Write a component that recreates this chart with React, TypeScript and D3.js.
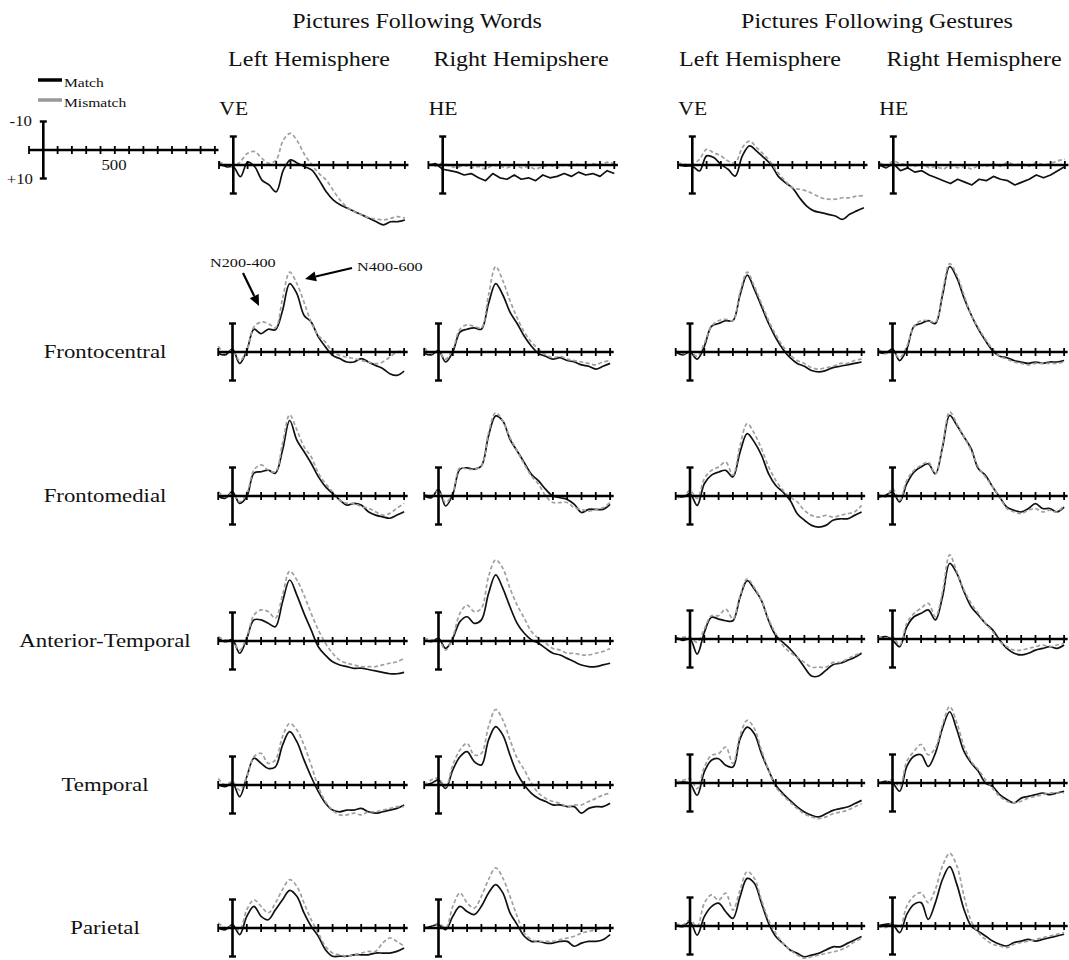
import React from "react"
import * as d3 from "d3"

// sample times (ms) shared by every waveform
const times = d3.range(-100, 1201, 50)

const groupTitles = ["Pictures Following Words", "Pictures Following Gestures"]
const hemiTitles = ["Left Hemisphere", "Right Hemipshere", "Left Hemisphere", "Right Hemisphere"]
const eyeLabels = ["VE", "HE", "VE", "HE"]
const regionLabels = ["Frontocentral", "Frontomedial", "Anterior-Temporal", "Temporal", "Parietal"]
const legendLabels = ["Match", "Mismatch"]
const legendTicks = ["-10", "+10", "500"]
const componentLabels = ["N200-400", "N400-600"]

// µV values, negative up (W = words, G = gestures, L/R = hemisphere, m = match, mm = mismatch)
const eyeWL_m = [-0.6, 0.6, 0.6, 4.1, -1, 0.6, 5.3, 7, 9.4, 1.8, -1.8, -0.6, 0.6, 1.8, 5.3, 9.4, 12.3, 14, 15.2, 16.4, 17.5, 18.7, 19.9, 21, 19.9, 19.9, 19.3]
const eyeWL_mm = [-1.2, 0, 0.6, -1.2, -4.1, -4.7, -2.3, -0.6, -1.8, -8.8, -11.1, -8.2, -3.5, 0, 3, 5.3, 9, 12.5, 15, 16.5, 17.5, 18.5, 19, 19.3, 18.7, 18.1, 18.7]
const eyeWR_m = [0, -0.5, 1.5, 2, 2.5, 3.5, 3, 4.5, 5.5, 3, 4.5, 5, 3.5, 5, 4.5, 5.5, 3.5, 4.5, 4, 3, 4, 2.5, 3.5, 3, 4, 2, 3]
const eyeWR_mm = [-0.5, 0.5, -1, 0.5, 1, 0, 1, 0.5, 1.5, 0, 0.5, 1, 0, 1, 0.5, 1.5, 0.5, 0, 1, 0, 0.5, -0.5, 0.5, -0.5, 0, -1, -0.5]
const eyeGL_m = [0, 0.4, 0.4, 2.1, -3.2, -2.6, -0.2, 1.5, 3.9, -3.2, -6.7, -4.9, -2.6, -0.2, 3.9, 6.2, 8, 11.5, 14.4, 16.1, 16.7, 17.3, 17.9, 19.1, 17.3, 16.1, 15]
const eyeGL_mm = [-0.8, -0.2, -0.2, -2, -5.5, -4.3, -3.2, -1.4, -0.8, -6.1, -8.4, -6.1, -3.7, -0.8, 2.7, 5.6, 8, 8.5, 9.1, 10.3, 11.5, 12, 12, 11.5, 11.5, 10.9, 10.7]
const eyeGR_m = [0, 1, -0.5, 2, 1, 2.5, 2, 3.5, 4.5, 5.5, 6.5, 5, 6, 7, 5, 5.5, 4, 5, 5.5, 7, 6, 5, 3.5, 4.5, 3.5, 2, 0.5]
const eyeGR_mm = [-1, 0.5, -1.5, -0.5, 0, 0.5, -0.5, 1, 0.5, 1.5, 0, 1, 0.5, 1.5, 0, 0.5, -0.5, 0.5, -1, 0, -0.5, 0.5, -1, 0, -0.5, -1.5, -2]

const fcWL_m = [0.5, 1, -1, 4, -0.5, -8, -6.4, -8, -7.8, -14.6, -24, -20.5, -12.9, -10.5, -5.3, -1.8, 1.2, 2.3, 3.5, 3.5, 2.3, 3.5, 4.7, 5.8, 7.6, 8.2, 6.7]
const fcWL_mm = [-2, 0.5, -0.5, 3, -0.5, -8.8, -10.5, -10, -8.5, -18.7, -28, -24, -17.5, -10.5, -5.8, -3.5, 0, 1.2, 1.8, 2.3, 3, 3.5, 4.1, 3.5, 1.8, 0, -0.5]
const fcWR_m = [0.5, 1, -0.5, 3.5, 0, -7, -8, -8.5, -8, -17, -24, -20, -14, -10, -5.5, -2, 0.5, 1.5, 2.5, 2, 3, 3.5, 4.5, 5, 6, 5, 4]
const fcWR_mm = [-1.5, 0.5, 0, 2.5, -1, -8, -9.5, -9, -8.5, -20, -30, -25, -18, -12, -7, -3.5, -1, 1, 2, 1.5, 2.5, 3, 3.5, 4, 4.5, 3.5, 3]
const fcGL_m = [0, 1, 0, 2.5, -2, -9, -10, -11, -11, -20, -27, -22, -16, -10, -5, -1, 2, 4, 5, 6.5, 7, 6.5, 5.5, 5, 4.5, 4, 3.5]
const fcGL_mm = [-0.5, 0.5, 0, 1.5, -3, -9, -11, -11.5, -11, -21, -28, -23, -17, -11, -6, -2, 1, 3, 4, 5.5, 6, 5.5, 5, 4, 4, 3, 2.5]
const fcGR_m = [0, 0.5, -1, 3, -1, -9, -10, -11, -10, -20, -30, -26, -19, -13, -8, -4, -0.5, 1.5, 2, 3, 3.5, 4, 3.5, 4, 3.5, 3.5, 3]
const fcGR_mm = [-1, 0.5, 0, 2, -2, -9, -11, -11, -10.5, -21, -31, -27, -20, -13, -8.5, -4.5, -1, 1.5, 2.5, 3.5, 4, 4.5, 4, 4, 4, 4, 3.5]

const fmWL_m = [0.2, 0.8, -1.5, 2.6, 0.2, -8, -8.5, -9.1, -8, -16.1, -26.5, -19.6, -15.6, -11.5, -6.8, -3.3, -0.9, 1.4, 3.2, 2.6, 3.2, 5.5, 6.7, 7.3, 7.8, 6.7, 5.5]
const fmWL_mm = [-1.5, 0.2, -0.9, 2, -0.9, -9.1, -10.9, -9.1, -8.5, -18.5, -28.5, -23.2, -17.3, -13.8, -8, -4.4, -1.5, 1.4, 2.6, 2.6, 3.7, 4.3, 5.5, 6.7, 6.1, 4.3, 2.6]
const fmWR_m = [0, 0.6, -2.3, 3.5, -0.6, -9.4, -9.9, -9.4, -10.5, -21.1, -28.1, -26.3, -19.9, -15.8, -11.7, -7.6, -5.3, -2.3, 0, 0.6, 1.2, 2.9, 5.8, 4.7, 4.7, 4.7, 2.9]
const fmWR_mm = [-0.6, 0, -1.8, 2.3, -1.2, -9.9, -9.4, -9.4, -10.5, -22.2, -29.2, -26.3, -20.5, -15.8, -11.1, -7, -4.1, 0, 2.3, 2.3, 2.3, 4.1, 4.7, 5.3, 4.7, 4.1, 2.3]
const fmGL_m = [-0.2, 0.4, -0.8, 3.3, -4.3, -7.3, -8.4, -9, -6.7, -15.4, -21.9, -18.9, -14.3, -7.8, -3.7, -1.4, 1.5, 6.2, 8.5, 10.3, 10.9, 10.3, 8.5, 8, 8, 6.8, 5.6]
const fmGL_mm = [0.4, 0.4, -2, 0.9, -6.1, -9, -10.2, -11.9, -7.3, -17.8, -25.4, -21.9, -16.6, -10.2, -5.5, -2, 0.4, 2.1, 5, 6.8, 7.4, 6.8, 7.4, 6.8, 6.2, 5.6, 3.3]
const fmGR_m = [0.4, -0.2, -1.4, 2.1, -4.3, -8.4, -10.2, -11.3, -7.8, -17.2, -28.3, -24.8, -20.7, -16.6, -9.6, -7.3, -3.2, 0.4, 3.9, 5, 5.6, 4.4, 2.7, 4.4, 4.4, 5.6, 3.9]
const fmGR_mm = [-0.8, 0.4, -2.6, 1.5, -5.5, -9, -10.8, -11.9, -7.8, -17.8, -29.5, -25.4, -20.7, -16, -10.2, -6.7, -3.2, 0.4, 4.4, 5.6, 6.2, 5, 4.4, 5.6, 5, 5.6, 3.3]

const atWL_m = [-0.9, 0.2, -0.4, 4.3, -0.9, -7.4, -7.4, -6.2, -5, -13.8, -21.4, -16.1, -9.7, -3.9, 2, 5, 7.3, 8.4, 9, 9.6, 9.5, 10, 10.5, 11, 11.5, 11.5, 11]
const atWL_mm = [-1.5, -0.4, 0.2, 3.2, -1.5, -9.1, -10.9, -10.3, -8, -16.1, -24.5, -21.4, -16.1, -9.7, -3.9, 0.8, 4.3, 6.7, 7.8, 8.4, 9, 9, 9, 8.4, 7.8, 7.3, 6.1]
const atWR_m = [-0.4, 0.2, -0.9, 2.6, -0.9, -6.8, -8.5, -6.2, -7.4, -16.7, -23.2, -18.5, -12, -6.2, -2.7, -0.4, 0.8, 2.6, 4.3, 4.9, 6.1, 7.3, 8.4, 9, 9, 8.4, 7.8]
const atWR_mm = [-0.9, -0.4, -0.4, 3.2, -1.5, -9.7, -12.6, -10.3, -11.5, -22.6, -28.5, -25.5, -18.5, -12.6, -8, -3.3, -0.9, 0.8, 2.6, 3.2, 4.3, 4.3, 4.9, 4.9, 4.3, 3.7, 2.6]
const atGL_m = [-0.6, 0.5, 0, 5.3, -2.3, -7.6, -7, -6.4, -6.4, -14.6, -20.5, -17.5, -13.5, -6.4, -1.2, 1.2, 3.5, 6.4, 9.9, 13, 13, 11, 9, 8.5, 7.5, 6.5, 5]
const atGL_mm = [0, -0.6, -0.6, 1.2, -3.5, -8.2, -8.2, -10.5, -7, -15.2, -21.1, -18.1, -13.5, -7, -1.8, 2.3, 4.7, 6.4, 8.2, 9.9, 9.9, 9.9, 8.2, 8.2, 7, 5.8, 4.7]
const atGR_m = [-0.2, -0.8, 0.4, 2.7, -4.3, -7.8, -9, -10.2, -6.7, -14.9, -26.5, -23, -16.6, -11.3, -8.4, -5.5, -3.2, 0.4, 3.3, 5, 5.6, 5, 3.9, 3.3, 2.7, 3.3, 2.1]
const atGR_mm = [-0.8, -0.2, -0.8, 2.1, -5.5, -9, -10.8, -12.5, -7.8, -16.6, -29.5, -23.6, -17.2, -12.5, -9, -5.5, -2.6, 0.9, 2.7, 3.9, 3.9, 3.3, 2.7, 2.1, 2.7, 2.1, 1.5]

const tpWL_m = [0, 0.6, -0.6, 4.1, -2.9, -9.4, -7.6, -5.8, -6.4, -14, -18.7, -15.2, -8.8, -2.9, 2.3, 6.4, 8.8, 9.4, 8.8, 8.8, 8.2, 9.4, 9.9, 9.4, 8.8, 8.2, 7]
const tpWL_mm = [-2.3, 0, -1.2, 1.8, -2.9, -9.9, -11.1, -7.6, -8.8, -17, -21.6, -19.3, -14, -7, 0.6, 5.8, 8.8, 10.5, 10.5, 9.9, 10.5, 9.4, 9.4, 8.8, 8.2, 7.6, 7.6]
const tpWR_m = [0, -0.6, -1.8, 1.2, -5.3, -9.9, -11.7, -8.2, -7, -15.8, -20.5, -17.5, -10.5, -4.1, 0, 2.9, 4.7, 5.8, 7, 7, 7.6, 7.6, 9.9, 8.2, 7.6, 7.6, 6.4]
const tpWR_mm = [0, -1.8, -2.3, 0.6, -7, -12.3, -14.6, -10.5, -11.1, -20.5, -26.5, -22.8, -15.8, -9.4, -5.3, -0.6, 2.9, 4.7, 5.8, 6.4, 7.6, 7, 7, 5.8, 4.7, 3.5, 2.9]
const tpGL_m = [0.2, -0.4, 0.2, 4.3, -3.9, -8, -8.5, -6.2, -5.6, -15.5, -19.6, -17.3, -10.3, -4.4, 0.8, 3.7, 6.1, 8.4, 10.2, 11.3, 11.9, 10.8, 9.6, 9, 8.4, 7.3, 6.1]
const tpGL_mm = [-0.4, -0.9, -1.5, 2, -5.6, -9.7, -10.3, -12.6, -6.8, -16.7, -22, -19.1, -11.5, -4.4, 1.4, 4.3, 6.7, 9, 10.8, 11.9, 12.5, 11.9, 10.8, 10.2, 9.6, 8.4, 7.3]
const tpGR_m = [0, -0.6, 0, 2.9, -5.8, -9.4, -9.9, -5.8, -10.5, -19.3, -25, -18.7, -11.1, -7, -4.1, 0, 1.2, 4.1, 5.8, 7, 5.3, 4.7, 4.1, 3.5, 4.1, 3.5, 2.9]
const tpGR_mm = [-0.6, 0, -1.2, 1.2, -7.6, -11.1, -13.5, -9.9, -12.3, -20.5, -26.8, -21.1, -12.9, -7.6, -4.7, -1.2, 1.8, 4.7, 6.4, 7, 6.4, 5.3, 4.7, 4.1, 3.5, 3.5, 3.5]

const paWL_m = [0, 0.6, -1.2, 2.3, -4.1, -7.6, -4.1, -2.9, -6.4, -9.9, -13.2, -11.1, -5.3, -0.6, 2.9, 7.6, 9.9, 9.9, 9.9, 9.4, 9.4, 9.4, 8.8, 8.8, 8.8, 8.2, 7]
const paWL_mm = [-1.8, 0, -0.6, 0.6, -6.4, -9.9, -7.6, -5.3, -8.8, -13.5, -17, -14.6, -8.8, -2.9, 1.8, 6.4, 8.8, 9.4, 9.9, 9.4, 8.8, 8.2, 8.2, 5.3, 3.5, 4.7, 6.4]
const paWR_m = [0, -0.6, -1.2, 0.6, -4.1, -7.6, -5.8, -4.7, -7.6, -12.3, -15.2, -12.3, -5.3, -1.2, 2.9, 4.7, 4.7, 5.3, 5.3, 4.7, 4.7, 6.4, 5.3, 4.7, 4.7, 4.1, 2.3]
const paWR_mm = [-0.6, 0, -1.8, 0, -7.6, -12.3, -8.8, -7, -11.1, -17, -21.1, -17.5, -11.1, -4.1, 1.8, 4.1, 4.7, 4.7, 4.7, 4.1, 3.5, 2.9, 1.8, 1.2, 0.6, 0, -0.6]
const paGL_m = [-0.4, 0.2, -1.5, 3.2, -3.3, -6.8, -8, -5, -2.7, -10.3, -16.7, -15, -8, -0.9, 3.7, 6.1, 8.4, 9.6, 10.8, 10.2, 9.6, 8.4, 7.3, 7.3, 6.1, 4.9, 3.7]
const paGL_mm = [-0.9, -0.4, -2.1, 0.2, -8, -10.9, -9.1, -11.5, -5.6, -12.6, -19.1, -16.7, -9.1, -2.1, 2.6, 6.1, 8.4, 10.2, 11.3, 10.8, 10.2, 9.6, 9.1, 8.4, 7.3, 5.5, 4.3]
const paGR_m = [0, -0.6, -0.6, 2.3, -4.1, -7.6, -8.2, -2.3, -8.2, -16.4, -20.8, -14.6, -5.8, 0, 1.8, 3.5, 5.3, 6.4, 7, 5.8, 5.3, 4.7, 5.3, 4.7, 4.1, 3.5, 2.9]
const paGR_mm = [0, 0.6, -1.2, 0.6, -7, -10.5, -11.7, -8.2, -12.9, -21.1, -25.5, -21.1, -10.5, -1.8, 2.3, 4.7, 6.4, 7, 7.6, 6.4, 5.8, 5.3, 4.7, 4.1, 3.5, 2.9, 2.3]

const grid = [
  [[eyeWL_m, eyeWL_mm], [eyeWR_m, eyeWR_mm], [eyeGL_m, eyeGL_mm], [eyeGR_m, eyeGR_mm]],
  [[fcWL_m, fcWL_mm], [fcWR_m, fcWR_mm], [fcGL_m, fcGL_mm], [fcGR_m, fcGR_mm]],
  [[fmWL_m, fmWL_mm], [fmWR_m, fmWR_mm], [fmGL_m, fmGL_mm], [fmGR_m, fmGR_mm]],
  [[atWL_m, atWL_mm], [atWR_m, atWR_mm], [atGL_m, atGL_mm], [atGR_m, atGR_mm]],
  [[tpWL_m, tpWL_mm], [tpWR_m, tpWR_mm], [tpGL_m, tpGL_mm], [tpGR_m, tpGR_mm]],
  [[paWL_m, paWL_mm], [paWR_m, paWR_mm], [paGL_m, paGL_mm], [paGR_m, paGR_mm]],
]

const colX = [232.5, 438.5, 690, 892.5]
const eyeColX = [233.3, 442.7, 692.3, 893.3]
const rowY = [165, 352, 496, 641, 785, 928]

const FONT = "'Liberation Serif', 'Times New Roman', Times, serif"
const SX = 1.2
const PX_MS = 0.143
const PX_UV = 2.85

function Txt({ x, y, size, anchor = "middle", children }) {
  return (
    <text
      transform={`translate(${x},${y}) scale(${SX},1)`}
      fontSize={size}
      textAnchor={anchor}
      fontFamily={FONT}
      fill="#111"
    >
      {children}
    </text>
  )
}

function Axes({ x0, y0 }) {
  const x = d3.scaleLinear().domain([0, 100]).range([x0, x0 + 100 * PX_MS])
  const y = d3.scaleLinear().domain([-10, 10]).range([y0 - 10 * PX_UV, y0 + 10 * PX_UV])
  const ticks = d3.range(-100, 1201, 100).filter(t => t !== 0)
  return (
    <g stroke="#000">
      <line x1={x(-100)} x2={x(1225)} y1={y0} y2={y0} strokeWidth={2.6} />
      {ticks.map(t => (
        <line key={t} x1={x(t)} x2={x(t)} y1={y0 - 4} y2={y0 + 4} strokeWidth={1.8} />
      ))}
      <line x1={x0} x2={x0} y1={y(-10)} y2={y(10)} strokeWidth={2.6} />
      <line x1={x0 - 3.5} x2={x0 + 3.5} y1={y(-10)} y2={y(-10)} strokeWidth={2.4} />
      <line x1={x0 - 3.5} x2={x0 + 3.5} y1={y(10)} y2={y(10)} strokeWidth={2.4} />
    </g>
  )
}

function Panel({ x0, y0, match, mismatch, noisy }) {
  const x = d3.scaleLinear().domain([0, 100]).range([x0, x0 + 100 * PX_MS])
  const y = d3.scaleLinear().domain([-10, 10]).range([y0 - 10 * PX_UV, y0 + 10 * PX_UV])
  const line = d3
    .line<number>()
    .x((_, i) => x(times[i]))
    .y(d => y(d))
    .curve(noisy ? d3.curveLinear : d3.curveCatmullRom.alpha(0.5))
  return (
    <g>
      <path d={line(match) || ""} fill="none" stroke="#111" strokeWidth={1.7} strokeLinejoin="round" />
      <path d={line(mismatch) || ""} fill="none" stroke="#a0a0a0" strokeWidth={1.7} strokeDasharray="4,2.5" />
      <Axes x0={x0} y0={y0} />
    </g>
  )
}

function Arrow({ x1, y1, x2, y2 }) {
  const a = Math.atan2(y2 - y1, x2 - x1)
  const len = 11
  const w = 5
  const bx = x2 - len * Math.cos(a)
  const by = y2 - len * Math.sin(a)
  const px = -Math.sin(a) * w
  const py = Math.cos(a) * w
  return (
    <g>
      <line x1={x1} y1={y1} x2={bx} y2={by} stroke="#000" strokeWidth={2.2} />
      <path d={`M${x2},${y2}L${bx + px},${by + py}L${bx - px},${by - py}Z`} fill="#000" />
    </g>
  )
}

export default function App() {
  return (
    <svg
      width={1069}
      height={960}
      style={{ position: "absolute", left: 0, top: 0, background: "#fff" }}
    >
      <Txt x={417} y={28} size={20}>{groupTitles[0]}</Txt>
      <Txt x={877} y={28} size={20}>{groupTitles[1]}</Txt>
      {hemiTitles.map((t, i) => (
        <Txt key={i} x={[309, 521, 760, 974][i]} y={66} size={20}>{t}</Txt>
      ))}

      {/* legend */}
      <line x1={38} x2={62} y1={80} y2={80} stroke="#000" strokeWidth={3.5} />
      <line x1={38} x2={62} y1={100} y2={100} stroke="#999" strokeWidth={3.5} />
      <Txt x={64} y={87} size={13} anchor="start">{legendLabels[0]}</Txt>
      <Txt x={64} y={107} size={13} anchor="start">{legendLabels[1]}</Txt>
      <Axes x0={43.3} y0={150} />
      <Txt x={32} y={126} size={14} anchor="end">{legendTicks[0]}</Txt>
      <Txt x={33} y={184} size={14} anchor="end">{legendTicks[1]}</Txt>
      <Txt x={114} y={170} size={14}>{legendTicks[2]}</Txt>

      {eyeLabels.map((t, i) => (
        <Txt key={t + i} x={eyeColX[i] - 14} y={115} size={18} anchor="start">{t}</Txt>
      ))}

      {regionLabels.map((t, i) => (
        <Txt key={t} x={105} y={rowY[i + 1] + 6} size={19}>{t}</Txt>
      ))}

      {grid.map((row, r) =>
        row.map(([m, mm], c) => (
          <Panel
            key={r + "-" + c}
            x0={r === 0 ? eyeColX[c] : colX[c]}
            y0={r >= 3 && c >= 2 ? rowY[r] - 2 : rowY[r]}
            match={m}
            mismatch={mm}
            noisy={r === 0 && (c === 1 || c === 3)}
          />
        ))
      )}

      <Txt x={210} y={267} size={13.5} anchor="start">{componentLabels[0]}</Txt>
      <Txt x={357} y={271} size={13.5} anchor="start">{componentLabels[1]}</Txt>
      <Arrow x1={243} y1={273} x2={259} y2={306} />
      <Arrow x1={352} y1={268} x2={305} y2={279} />
    </svg>
  )
}
